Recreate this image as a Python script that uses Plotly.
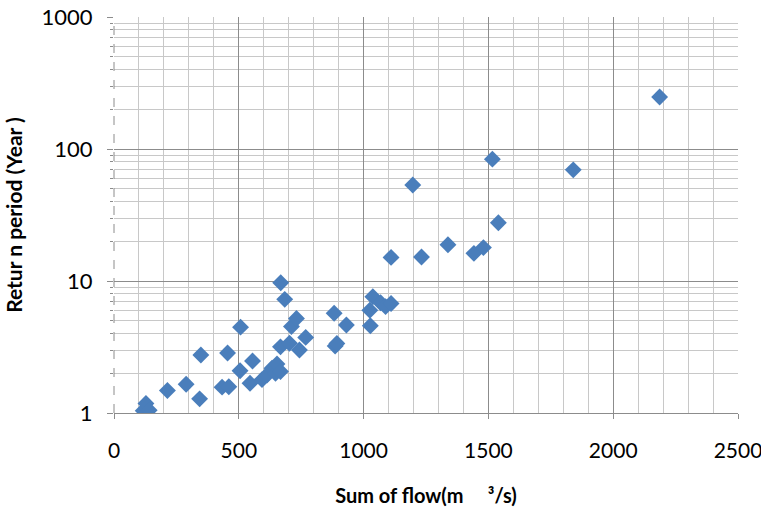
import plotly.graph_objects as go

flow = [117, 128, 141, 214, 289, 343, 348, 433, 455, 460, 505, 507, 545, 555,
        593, 613, 633, 647, 653, 667, 667, 668, 684, 703, 711, 731, 743, 768,
        882, 886, 893, 931, 1025, 1027, 1037, 1068, 1088, 1110, 1110, 1197,
        1232, 1338, 1442, 1480, 1516, 1540, 1840, 2186]
period = [1.04, 1.18, 1.05, 1.48, 1.65, 1.28, 2.75, 1.57, 2.85, 1.58, 2.09, 4.47,
          1.68, 2.48, 1.79, 1.94, 2.18, 2.0, 2.35, 2.06, 3.17, 9.7, 7.26, 3.38,
          4.52, 5.2, 3.0, 3.74, 5.7, 3.22, 3.36, 4.64, 6.0, 4.58, 7.6, 6.85,
          6.4, 6.75, 15.1, 53.3, 15.2, 18.8, 16.2, 17.9, 83.8, 27.6, 69.5, 248]

x_ticks = [0, 500, 1000, 1500, 2000, 2500]
y_ticks = [1, 10, 100, 1000]

fig = go.Figure()
fig.add_trace(go.Scatter(
    x=flow, y=period, mode="markers",
    marker=dict(symbol="diamond", size=13, color="#4A7EBB",
                line=dict(width=0)),
    showlegend=False,
))

font_family = "Lato, 'Open Sans', sans-serif"
fig.update_layout(
    width=761, height=507,
    margin=dict(l=114, r=23, t=17, b=94),
    paper_bgcolor="white", plot_bgcolor="white",
    font=dict(family=font_family, color="black"),
    xaxis=dict(
        automargin=False,
        range=[0, 2500], tickvals=x_ticks, ticktext=[str(v) for v in x_ticks],
        showgrid=True, gridcolor="#8C8C8C", gridwidth=1,
        minor=dict(dtick=100, showgrid=True, gridcolor="#C8C8C8", gridwidth=1),
        ticks="outside", ticklen=5, tickcolor="#8C8C8C",
        ticklabelstandoff=14, ticklabeloverflow="allow",
        showline=True, linecolor="#8C8C8C", linewidth=1, mirror=False,
        zeroline=False,
        tickfont=dict(size=21),
        title=dict(text="<b>Sum of flow(m     ³/s)</b>", font=dict(size=20), standoff=28),
    ),
    yaxis=dict(
        automargin=False,
        type="log", range=[0, 3], tickvals=y_ticks,
        ticktext=[str(v) for v in y_ticks],
        showgrid=True, gridcolor="#8C8C8C", gridwidth=1,
        minor=dict(dtick="D1", showgrid=True, gridcolor="#C8C8C8", gridwidth=1,
                   ticks="outside", ticklen=3, tickcolor="#8C8C8C"),
        ticks="outside", ticklen=6, tickcolor="#8C8C8C",
        ticklabelstandoff=10, ticklabeloverflow="allow",
        showline=False, zeroline=False,
        tickfont=dict(size=22),
        title=dict(text="<b>Retur n period (Year )</b>", font=dict(size=21), standoff=13),
    ),
    shapes=[dict(type="line", xref="paper", yref="paper", x0=0, x1=0, y0=0, y1=1,
                 line=dict(color="#8C8C8C", width=1, dash="dash"))],
)

# remove the browser's default 8px body margin so the figure sits at (0, 0)
fig.write_html("out.html", config={"displayModeBar": False},
               post_script="document.body.style.margin='0';")
